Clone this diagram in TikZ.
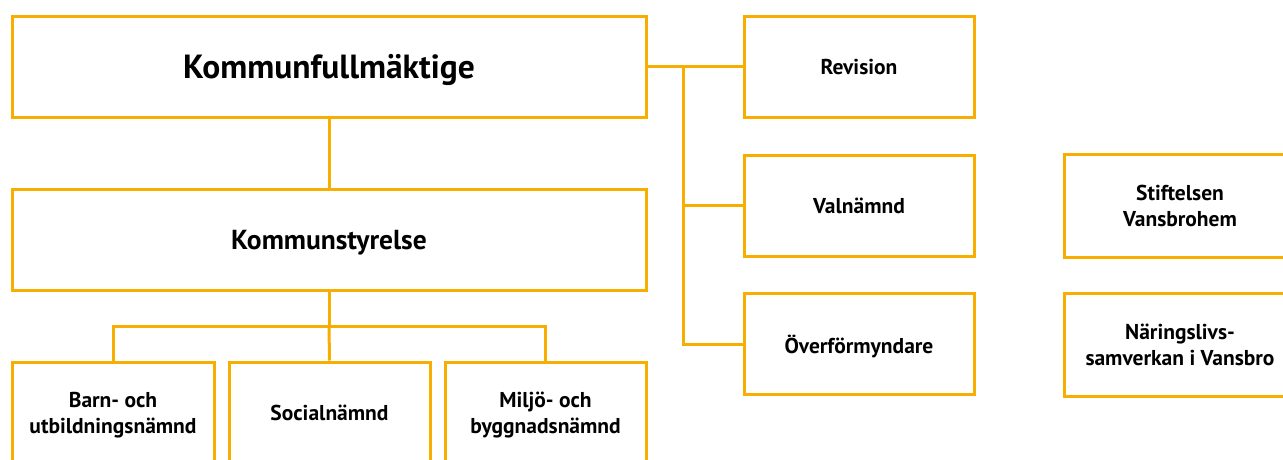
\documentclass[tikz,border=0pt]{standalone}
\usepackage{fontspec}
\setmainfont{PT Sans}
\definecolor{org}{RGB}{247,174,0}
\begin{document}
\begin{tikzpicture}[x=1pt,y=-1pt,
  box/.style={draw=org,line width=3pt,fill=white,inner sep=0pt,align=center,text depth=0pt,
    font=\fontsize{21.5}{26}\selectfont\bfseries,minimum height=101pt},
  conn/.style={draw=org,line width=3pt}]
\useasboundingbox (0,0) rectangle (1283,459);
\clip (0,0) rectangle (1283,459);
\node[box,minimum width=634pt,font=\fontsize{33.5}{38}\selectfont\bfseries] (kf) at (329,66.5) {Kommunfullmäktige};
\node[box,minimum width=634pt,font=\fontsize{27.5}{32}\selectfont\bfseries] (ks) at (329,239.5) {Kommunstyrelse};
\node[box,minimum width=202pt] (barn) at (113,412.5) {Barn- och\\utbildningsnämnd};
\node[box,minimum width=201pt] (soc) at (329.5,412.5) {Socialnämnd};
\node[box,minimum width=201pt] (milj) at (545.5,412.5) {Miljö- och\\byggnadsnämnd};
\node[box,minimum width=230pt] (rev) at (859,66.5) {Revision};
\node[box,minimum width=230pt] (val) at (859,205.5) {Valnämnd};
\node[box,minimum width=230pt] (over) at (859,344) {Överförmyndare};
\node[box,minimum width=232pt,minimum height=103pt] (stift) at (1180,205.5) {Stiftelsen\\Vansbrohem};
\node[box,minimum width=232pt,minimum height=103pt] (nar) at (1180,344.5) {Näringslivs-\\samverkan i Vansbro};
\coordinate (bus) at (329,326);
\coordinate (spine) at (683,66.5);
\draw[conn] (kf.south) -- (ks.north);
\draw[conn] (ks.south) -- (bus);
\draw[conn] (barn.north) |- (bus) -| (milj.north);
\draw[conn] (soc.north) -- (bus);
\draw[conn] (kf.east) -- (rev.west);
\draw[conn] (spine) |- (val.west);
\draw[conn] (spine) |- (over.west);
\end{tikzpicture}
\end{document}
